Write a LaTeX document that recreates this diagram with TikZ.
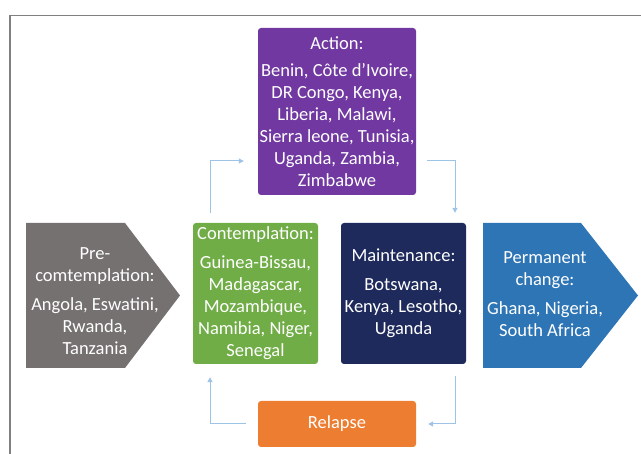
\documentclass[tikz,border=0pt]{standalone}
\usepackage{fontspec}
\setmainfont{Carlito}
\usepackage{xcolor}
\usetikzlibrary{arrows.meta,positioning}
\definecolor{stgrey}{HTML}{767171}
\definecolor{stgreen}{HTML}{70AD47}
\definecolor{stnavy}{HTML}{1F2A5C}
\definecolor{stblue}{HTML}{2E75B6}
\definecolor{stpurple}{HTML}{7038A0}
\definecolor{storange}{HTML}{ED7D31}
\definecolor{stline}{HTML}{9DC3E6}
\definecolor{stframe}{HTML}{808080}
\tikzset{
  stagetxt/.style={align=center,text=white,inner sep=0pt,
                   font=\fontsize{18.5}{22}\selectfont},
  stage/.style={stagetxt,rounded corners=3pt},           % boxes of the cycle
  flow/.style={-{Triangle[length=5pt,width=5pt]},stline,line width=1pt}
}

\begin{document}
\begin{tikzpicture}[x=1pt,y=-1pt]
  \useasboundingbox (0,0) rectangle (641,454);
  \draw[stframe,line width=1.3pt] (10,454) -- (10,15.5) -- (641,15.5);

  % entry and exit arrows
  \fill[stgrey] (26,223) -- (125,223) -- (180,295.5) -- (125,368) -- (26,368) -- cycle;
  \node[stagetxt] (pre) at (95,301.5)
    {Pre-\\comtemplation:\\[7pt]Angola, Eswatini,\\Rwanda,\\Tanzania};
  \fill[stblue] (483,223) -- (581,223) -- (638,295.5) -- (581,368) -- (483,368) -- cycle;
  \node[stagetxt] (perm) at (545,294)
    {Permanent\\change:\\[7pt]Ghana, Nigeria,\\South Africa};

  \node[stage,fill=stgreen,minimum width=125pt,minimum height=141pt] (contemp) at (255.5,293.5)
    {Contemplation:\\[7pt]Guinea-Bissau,\\Madagascar,\\Mozambique,\\Namibia, Niger,\\Senegal};
  \node[stage,fill=stnavy,minimum width=125pt,minimum height=141pt] (maint) at (403.5,293.5)
    {Maintenance:\\[7pt]Botswana,\\Kenya, Lesotho,\\Uganda};
  \node[stage,fill=stpurple,minimum width=158pt,minimum height=167pt] (action) at (337,111.5)
    {Action:\\[5pt]Benin, Côte d’Ivoire,\\DR Congo, Kenya,\\Liberia, Malawi,\\Sierra leone, Tunisia,\\Uganda, Zambia,\\Zimbabwe};
  \node[stage,fill=storange,minimum width=158pt,minimum height=46pt] (relapse) at (337,424)
    {Relapse};

  \draw[flow,shorten <=10pt,shorten >=14pt] ([xshift=-45.5pt]contemp.north) |- ([yshift=-49.5pt]action.west);
  \draw[flow,shorten <=11pt,shorten >=10pt] ([yshift=-49.5pt]action.east) -| ([xshift=51.5pt]maint.north);
  \draw[flow,shorten <=12pt,shorten >=12pt] ([xshift=51.5pt]maint.south) |- (relapse.east);
  \draw[flow,shorten <=12pt,shorten >=13pt] (relapse.west) -| ([xshift=-45.5pt]contemp.south);
\end{tikzpicture}
\end{document}
